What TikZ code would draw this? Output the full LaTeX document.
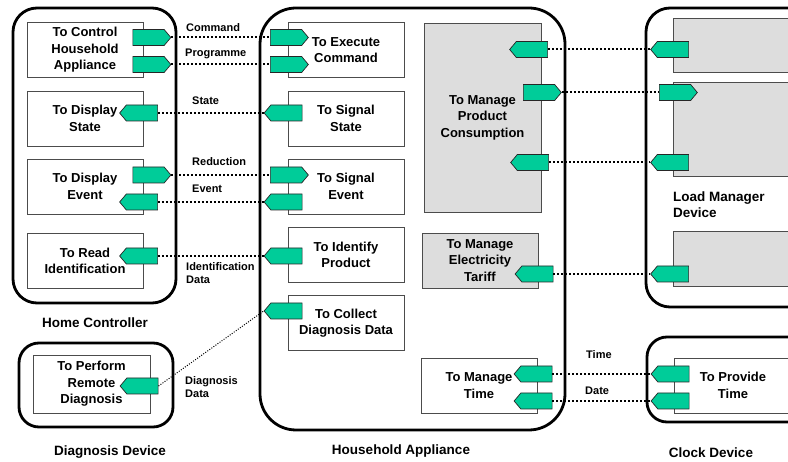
\documentclass[tikz,border=0pt]{standalone}
\usepackage{fontspec}
\setmainfont{Liberation Sans}
\usetikzlibrary{shapes.symbols}
\definecolor{portgreen}{HTML}{00CC99}
\definecolor{mgrgray}{HTML}{DDDDDD}

\begin{document}
\begin{tikzpicture}[x=1pt,y=-1pt,
    device/.style={line width=2.8pt,rounded corners=#1},
    func/.style={draw=black!70,line width=0.8pt,fill=white,minimum width=116pt,
        minimum height=55pt,inner sep=0pt,align=center,
        font=\fontsize{13}{16.5}\selectfont\bfseries},
    mgr/.style={func,fill=mgrgray},
    port/.style={signal,draw=black!85,fill=portgreen,line width=0.7pt,
        minimum width=38pt,minimum height=16pt,inner sep=0pt,signal pointer angle=100},
    outp/.style={port,signal to=east},
    inp/.style={port,signal to=west},
    flow/.style={line width=2pt,dash pattern=on 2pt off 2pt},
    lbl/.style={font=\fontsize{11}{13}\selectfont\bfseries,align=left,anchor=west,inner sep=0pt},
    devlbl/.style={font=\fontsize{13.5}{16}\selectfont\bfseries,align=left,inner sep=0pt}]
    \useasboundingbox (0,0) rectangle (788,462);
    \clip (0,0) rectangle (788,462);
    % devices
    \draw[device=24pt] (13,8) rectangle (176,303);
    \draw[device=20pt] (19,343) rectangle (173,427);
    \draw[device=36pt] (260,8) rectangle (565,430);
    \draw[device=24pt] (646,8) rectangle (830,307);
    \draw[device=20pt] (647,337) rectangle (830,422);
    % home controller
    \node[func] (hcCtrl) at (85,50) {To Control\\Household\\Appliance};
    \node[func] (hcState) at (85,118.5) {To Display\\State};
    \node[func] (hcEvent) at (85,186.5) {To Display\\Event};
    \node[func] (hcRead) at (85,261) {To Read\\Identification};
    % diagnosis device
    \node[func,minimum width=117pt,minimum height=58pt] (ddRemote) at (91.5,384) {To Perform\\Remote\\Diagnosis};
    % household appliance
    \node[func] (haExec) at (346,50) {To Execute\\Command};
    \node[func] (haState) at (346,118.5) {To Signal\\State};
    \node[func] (haEvent) at (346,186.5) {To Signal\\Event};
    \node[func] (haIdent) at (346,255) {To Identify\\Product};
    \node[func] (haDiag) at (346,323) {To Collect\\Diagnosis Data};
    \node[mgr,minimum width=117pt,minimum height=189pt] (haCons) at (482.5,117.5) {To Manage\\Product\\Consumption};
    \node[mgr] (haTariff) at (480,260.5) {To Manage\\Electricity\\Tariff};
    \node[func] (haTime) at (479,385.5) {To Manage\\Time};
    % load manager and clock
    \node[mgr,minimum width=150pt,minimum height=54pt] (lmTop) at (748,45) {};
    \node[mgr,minimum width=150pt,minimum height=94pt] (lmMid) at (748,129) {};
    \node[mgr,minimum width=150pt,minimum height=55pt] (lmLow) at (748,258.5) {};
    \node[func,minimum width=118pt] (ckTime) at (733,385.5) {To Provide\\Time};
    % ports
    \node[outp] (cmdOut) at (148.5,37.5) {};
    \node[outp] (prgOut) at (148.5,64.5) {};
    \node[inp] (stIn) at (142,113) {};
    \node[outp] (redOut) at (148.5,175) {};
    \node[inp] (evIn) at (142,202) {};
    \node[inp] (idIn) at (142,256) {};
    \node[inp] (dgIn) at (142.5,386) {};
    \node[outp] (cmdIn) at (286,37.5) {};
    \node[outp] (prgIn) at (286,64.5) {};
    \node[inp] (stOut) at (286.5,113) {};
    \node[outp] (redIn) at (286,175) {};
    \node[inp] (evOut) at (286.5,202) {};
    \node[inp] (idOut) at (286.5,256) {};
    \node[inp] (dgOut) at (286.5,311) {};
    \node[inp] (consA) at (532,49.5) {};
    \node[outp] (consB) at (539,92.5) {};
    \node[inp] (consC) at (533,162.5) {};
    \node[inp] (tarIn) at (537.5,274) {};
    \node[inp] (timeA) at (536.5,374) {};
    \node[inp] (timeB) at (536.5,401) {};
    \node[inp] (lmA) at (673,49.5) {};
    \node[outp] (lmB) at (675,92.5) {};
    \node[inp] (lmC) at (673,162.5) {};
    \node[inp] (lmD) at (673,274) {};
    \node[inp] (ckA) at (673.5,374) {};
    \node[inp] (ckB) at (673.5,401) {};
    % flows
    \draw[flow] (cmdOut.east) -- (cmdIn.west);
    \draw[flow] (prgOut.east) -- (prgIn.west);
    \draw[flow] (stIn.east) -- (stOut.west);
    \draw[flow] (redOut.east) -- (redIn.west);
    \draw[flow] (evIn.east) -- (evOut.west);
    \draw[flow] (idIn.east) -- (idOut.west);
    \draw[line width=1pt,dash pattern=on 1pt off 1.5pt] (dgIn.east) -- (dgOut.west);
    \draw[flow] (consA.east) -- (lmA.west);
    \draw[flow] (consB.east) -- (lmB.west);
    \draw[flow] (consC.east) -- (lmC.west);
    \draw[flow] (tarIn.east) -- (lmD.west);
    \draw[flow] (timeA.east) -- (ckA.west);
    \draw[flow] (timeB.east) -- (ckB.west);
    % flow labels
    \node[lbl] (lCmd) at (186,28) {Command};
    \node[lbl] (lPrg) at (185,54) {Programme};
    \node[lbl] (lSt) at (192,101) {State};
    \node[lbl] (lRed) at (192,162) {Reduction};
    \node[lbl] (lEv) at (192,189) {Event};
    \node[lbl] (lId) at (186,273.5) {Identification\\Data};
    \node[lbl] (lDg) at (185,387.5) {Diagnosis\\Data};
    \node[lbl] (lTime) at (586,355) {Time};
    \node[lbl] (lDate) at (585,391) {Date};
    % device labels
    \node[devlbl] (nHome) at (95,323) {Home Controller};
    \node[devlbl] (nDiag) at (110,452) {Diagnosis Device};
    \node[devlbl] (nAppl) at (401,451) {Household Appliance};
    \node[devlbl] (nClock) at (711,453) {Clock Device};
    \node[devlbl,anchor=west] (nLoad) at (673,205) {Load Manager\\Device};
\end{tikzpicture}
\end{document}
